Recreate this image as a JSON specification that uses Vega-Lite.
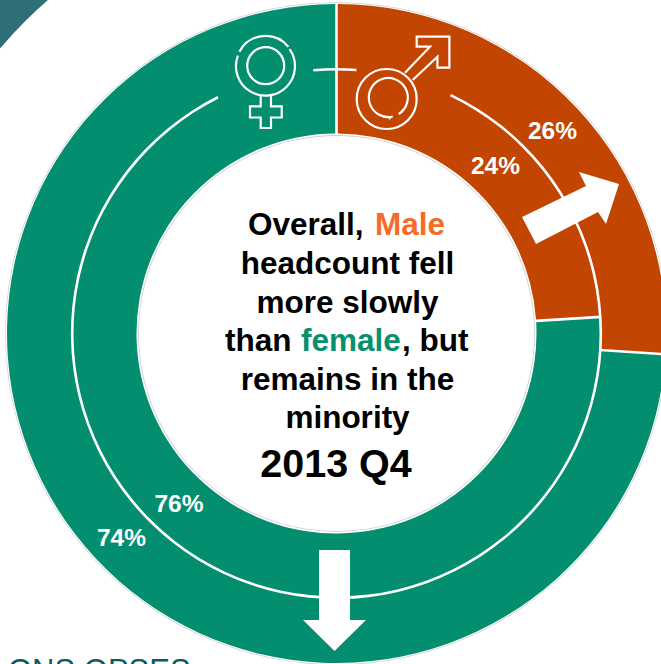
{
  "$schema": "https://vega.github.io/schema/vega-lite/v6.json",
  "width": 661,
  "height": 664,
  "padding": 0,
  "autosize": {"type": "none"},
  "background": "white",
  "config": {"view": {"stroke": null}},
  "encoding": {
    "x": {"datum": 336.5, "type": "quantitative", "scale": {"domain": [0, 661]}, "axis": null},
    "y": {"datum": 333.5, "type": "quantitative", "scale": {"domain": [664, 0]}, "axis": null}
  },
  "layer": [
    {
      "data": {"values": [{"band": "corner"}]},
      "mark": {"type": "arc", "innerRadius": 441, "outerRadius": 640, "theta": 5.1, "theta2": 5.9, "fill": "#2F6E75"},
      "encoding": {}
    },
    {
      "data": {"values": [{"band": "edge"}]},
      "mark": {"type": "arc", "innerRadius": 330.5, "outerRadius": 331.3, "theta": 0, "theta2": 6.2832, "fill": "#cfcfcf"},
      "encoding": {}
    },
    {
      "data": {"values": [{"band": "edge"}]},
      "mark": {"type": "arc", "innerRadius": 197.6, "outerRadius": 198.4, "theta": 0, "theta2": 6.2832, "fill": "#cfcfcf"},
      "encoding": {}
    },
    {
      "data": {"values": [
        {"gender": "Male", "share": 24, "rank": 1},
        {"gender": "Female", "share": 76, "rank": 2}
      ]},
      "mark": {"type": "arc", "innerRadius": 200, "outerRadius": 265, "padAngle": 0.008},
      "encoding": {
        "theta": {"field": "share", "type": "quantitative", "stack": true, "scale": {"domain": [0, 100]}},
        "order": {"field": "rank", "type": "quantitative"},
        "color": {"field": "gender", "type": "nominal", "legend": null,
          "scale": {"domain": ["Male", "Female"], "range": ["#C24501", "#038E6F"]}}
      }
    },
    {
      "data": {"values": [
        {"gender": "Male", "share": 26, "rank": 1},
        {"gender": "Female", "share": 74, "rank": 2}
      ]},
      "mark": {"type": "arc", "innerRadius": 264, "outerRadius": 329.5, "padAngle": 0.006},
      "encoding": {
        "theta": {"field": "share", "type": "quantitative", "stack": true, "scale": {"domain": [0, 100]}},
        "order": {"field": "rank", "type": "quantitative"},
        "color": {"field": "gender", "type": "nominal", "legend": null,
          "scale": {"domain": ["Male", "Female"], "range": ["#C24501", "#038E6F"]}}
      }
    },
    {
      "data": {"values": [
        {"from": 7.1, "to": 92.6},
        {"from": 98.6, "to": 100},
        {"from": 0, "to": 1.2}
      ]},
      "mark": {"type": "arc", "innerRadius": 263, "outerRadius": 265.6, "fill": "white"},
      "encoding": {
        "theta": {"field": "from", "type": "quantitative", "scale": {"domain": [0, 100]}},
        "theta2": {"field": "to"}
      }
    },
    {
      "data": {"values": [{"icon": "female"}]},
      "mark": {"type": "point", "filled": false, "stroke": "white", "strokeWidth": 2.2, "opacity": 1, "size": 4,
        "shape": "M-26.3 -14A29.5 29.5 0 0 1 22.7 -18.8M23.9 -16.5A29.5 29.5 0 1 1 -27.8 -10M-18.5 0A18.5 18.5 0 1 0 18.5 0A18.5 18.5 0 1 0 -18.5 0M-5 29V40.6H-15.7V51.8H-5V62.3H5.3V51.8H16V40.6H5.3V29"},
      "encoding": {"x": {"datum": 265.7}, "y": {"datum": 65.7}}
    },
    {
      "data": {"values": [{"icon": "male"}]},
      "mark": {"type": "point", "filled": false, "stroke": "white", "strokeWidth": 2.2, "opacity": 1, "size": 4,
        "shape": "M-30 0A30 30 0 1 1 30 0A30 30 0 1 1 -30 0M6 17.5A19.5 19.5 0 1 1 12 15M2 19.5L4 19M18.3 -26.3L43.3 -52.3H30V-62.3H62.7V-31.3H50.7V-42.3L26 -19"},
      "encoding": {"x": {"datum": 386.7}, "y": {"datum": 99}}
    },
    {
      "data": {"values": [{"direction": "up"}]},
      "mark": {"type": "point", "filled": true, "fill": "white", "stroke": null, "opacity": 1, "size": 4,
        "shape": "M-49 9L15 -22L8 -36L48 -24L35 16L27 4L-35 36Z"},
      "encoding": {"x": {"datum": 571}, "y": {"datum": 208}}
    },
    {
      "data": {"values": [{"direction": "down"}]},
      "mark": {"type": "point", "filled": true, "fill": "white", "stroke": null, "opacity": 1, "size": 4,
        "shape": "M-15.5 -50.5H15.5V19.5H31.5L0 50.5L-31.5 19.5H-15.5Z"},
      "encoding": {"x": {"datum": 334.5}, "y": {"datum": 600.5}}
    },
    {
      "data": {"values": [{"label": "26%"}]},
      "mark": {"type": "text", "font": "Liberation Sans", "fontWeight": "bold", "fontSize": 24.5, "fill": "white"},
      "encoding": {"text": {"field": "label"}, "x": {"datum": 552.5}, "y": {"datum": 132}}
    },
    {
      "data": {"values": [{"label": "24%"}]},
      "mark": {"type": "text", "font": "Liberation Sans", "fontWeight": "bold", "fontSize": 24.5, "fill": "white"},
      "encoding": {"text": {"field": "label"}, "x": {"datum": 495.5}, "y": {"datum": 167}}
    },
    {
      "data": {"values": [{"label": "76%"}]},
      "mark": {"type": "text", "font": "Liberation Sans", "fontWeight": "bold", "fontSize": 24.5, "fill": "white"},
      "encoding": {"text": {"field": "label"}, "x": {"datum": 179}, "y": {"datum": 505}}
    },
    {
      "data": {"values": [{"label": "74%"}]},
      "mark": {"type": "text", "font": "Liberation Sans", "fontWeight": "bold", "fontSize": 24.5, "fill": "white"},
      "encoding": {"text": {"field": "label"}, "x": {"datum": 121.5}, "y": {"datum": 539}}
    },
    {
      "data": {"values": [{"line": "Overall,"}]},
      "mark": {"type": "text", "font": "Liberation Sans", "fontWeight": "bold", "fontSize": 31.5, "fill": "#000000", "align": "left"},
      "encoding": {"text": {"field": "line"}, "x": {"datum": 248}, "y": {"datum": 225.5}}
    },
    {
      "data": {"values": [{"line": "Male"}]},
      "mark": {"type": "text", "font": "Liberation Sans", "fontWeight": "bold", "fontSize": 31.5, "fill": "#F86A27", "align": "left"},
      "encoding": {"text": {"field": "line"}, "x": {"datum": 375}, "y": {"datum": 225.5}}
    },
    {
      "data": {"values": [{"line": "headcount fell"}]},
      "mark": {"type": "text", "font": "Liberation Sans", "fontWeight": "bold", "fontSize": 31.5, "fill": "#000000"},
      "encoding": {"text": {"field": "line"}, "x": {"datum": 347.5}, "y": {"datum": 264.5}}
    },
    {
      "data": {"values": [{"line": "more slowly"}]},
      "mark": {"type": "text", "font": "Liberation Sans", "fontWeight": "bold", "fontSize": 31.5, "fill": "#000000"},
      "encoding": {"text": {"field": "line"}, "x": {"datum": 347.5}, "y": {"datum": 303.5}}
    },
    {
      "data": {"values": [{"line": "than"}]},
      "mark": {"type": "text", "font": "Liberation Sans", "fontWeight": "bold", "fontSize": 31.5, "fill": "#000000", "align": "left"},
      "encoding": {"text": {"field": "line"}, "x": {"datum": 225}, "y": {"datum": 341.5}}
    },
    {
      "data": {"values": [{"line": "female"}]},
      "mark": {"type": "text", "font": "Liberation Sans", "fontWeight": "bold", "fontSize": 31.5, "fill": "#05906F", "align": "left"},
      "encoding": {"text": {"field": "line"}, "x": {"datum": 301}, "y": {"datum": 341.5}}
    },
    {
      "data": {"values": [{"line": ", but"}]},
      "mark": {"type": "text", "font": "Liberation Sans", "fontWeight": "bold", "fontSize": 31.5, "fill": "#000000", "align": "left"},
      "encoding": {"text": {"field": "line"}, "x": {"datum": 402}, "y": {"datum": 341.5}}
    },
    {
      "data": {"values": [{"line": "remains in the"}]},
      "mark": {"type": "text", "font": "Liberation Sans", "fontWeight": "bold", "fontSize": 31.5, "fill": "#000000"},
      "encoding": {"text": {"field": "line"}, "x": {"datum": 347.5}, "y": {"datum": 380.5}}
    },
    {
      "data": {"values": [{"line": "minority"}]},
      "mark": {"type": "text", "font": "Liberation Sans", "fontWeight": "bold", "fontSize": 31.5, "fill": "#000000"},
      "encoding": {"text": {"field": "line"}, "x": {"datum": 347.5}, "y": {"datum": 418.5}}
    },
    {
      "data": {"values": [{"line": "2013 Q4"}]},
      "mark": {"type": "text", "font": "Liberation Sans", "fontWeight": "bold", "fontSize": 39.5, "fill": "#000000"},
      "encoding": {"text": {"field": "line"}, "x": {"datum": 336}, "y": {"datum": 465}}
    },
    {
      "data": {"values": [{"line": "ONS OPSES"}]},
      "mark": {"type": "text", "font": "Liberation Sans", "fontSize": 31, "fill": "#0F5A5C", "align": "left"},
      "encoding": {"text": {"field": "line"}, "x": {"datum": 8}, "y": {"datum": 672}}
    }
  ]
}
